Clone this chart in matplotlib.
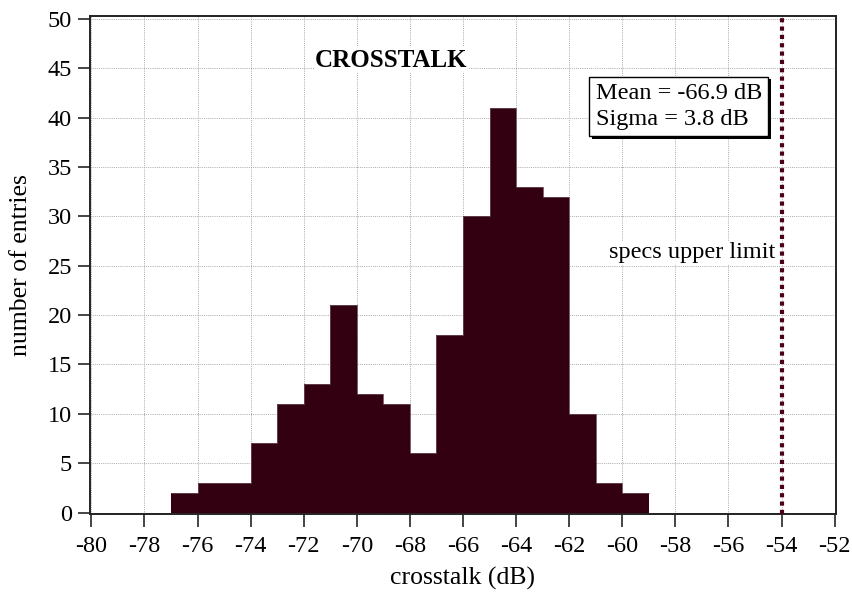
import numpy as np
import matplotlib
matplotlib.use("Agg")
import matplotlib.pyplot as plt
import matplotlib.patheffects as pe

# histogram of crosstalk values, 1 dB bins
bin_edges = [-77, -76, -75, -74, -73, -72, -71, -70, -69, -68, -67,
             -66, -65, -64, -63, -62, -61, -60, -59]
counts = [2, 3, 3, 7, 11, 13, 21, 12, 11, 6, 18, 30, 41, 33, 32, 10, 3, 2]
spec_limit = -54
mean_db = -66.9
sigma_db = 3.8

x_ticks = list(range(-80, -51, 2))
y_ticks = list(range(0, 51, 5))

plt.rcParams['font.family'] = ['Liberation Serif', 'DejaVu Serif']
plt.rcParams['axes.unicode_minus'] = False

fig = plt.figure(figsize=(8.53, 5.93), dpi=100)
ax = fig.add_axes([0.1055, 0.1332, 0.8745, 0.8398])

bar_col = '#330012'
ax.stairs(counts, bin_edges, fill=True, color=bar_col, zorder=2)
ax.stairs(counts, bin_edges, color='#6a4854', linewidth=0.6, baseline=None, zorder=2.1)

ax.axvline(spec_limit, color='#4a0018', linestyle=(0, (1, 1)), linewidth=3, zorder=3)

ax.set_xlim(-80.05, -51.95)
ax.set_ylim(-0.15, 50.3)
ax.set_xticks(x_ticks)
ax.set_yticks(y_ticks)
ax.set_axisbelow(True)
ax.grid(True, color='#aaaaaa', linestyle=(0, (1, 1.2)), linewidth=0.7)

for s in ax.spines.values():
    s.set_linewidth(1.4)
    s.set_color('#222222')
ax.tick_params(direction='out', length=9, width=1.4, color='#444444', labelsize=17.5)
ax.tick_params(axis='x', pad=7)
ax.tick_params(axis='y', pad=4)

ax.set_xlabel('crosstalk (dB)', fontsize=18.5, labelpad=7)
ax.set_ylabel('number of entries', fontsize=18.5, labelpad=11)

ax.text(-68.7, 45.8, 'CROSSTALK', fontsize=18, fontweight='bold', ha='center', va='center',
        bbox=dict(facecolor='white', edgecolor='none', pad=1), zorder=4)

ax.text(-54.25, 26.3, 'specs upper limit', fontsize=17.5, ha='right', va='center',
        bbox=dict(facecolor='white', edgecolor='none', pad=1), zorder=4)

t = ax.text(-61.0, 41.15, 'Mean = %.1f dB\nSigma = %.1f dB' % (mean_db, sigma_db),
            fontsize=17.5, ha='left', va='center', linespacing=1.3,
            bbox=dict(boxstyle='square,pad=0.26', facecolor='white', edgecolor='black', linewidth=1),
            zorder=5)
t.get_bbox_patch().set_path_effects([
    pe.SimplePatchShadow(offset=(2, -2), shadow_rgbFace='black', alpha=1), pe.Normal()])

fig.savefig('out.png', dpi=100)
